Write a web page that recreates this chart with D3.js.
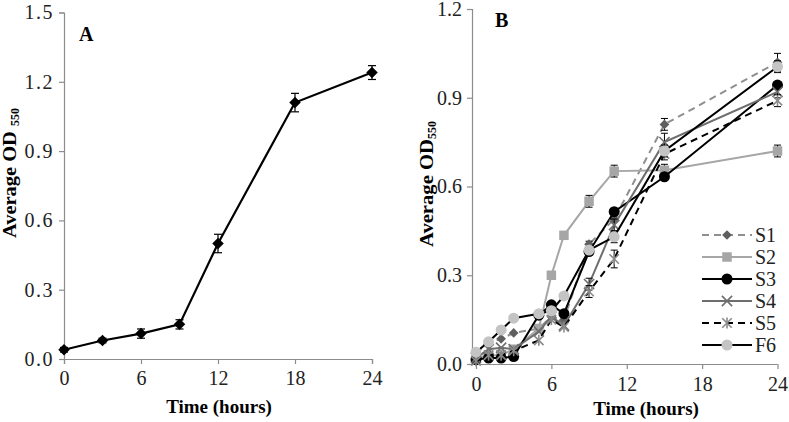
<!DOCTYPE html>
<html><head><meta charset="utf-8">
<script src="https://cdn.jsdelivr.net/npm/d3@7"></script>
<style>
body{margin:0;background:#fff;}
text{font-family:"Liberation Serif","Times New Roman",serif;}
</style></head>
<body>
<svg id="c" width="789" height="422"></svg>
<script>
// Panel A data
const timeA = [0, 3, 6, 9, 12, 18, 24];
const odA = [0.04, 0.08, 0.11, 0.15, 0.50, 1.11, 1.24];
const errA = [0.01, 0.01, 0.02, 0.02, 0.04, 0.04, 0.03];
const ticksAx = [0, 6, 12, 18, 24];
const ticksAy = [0, 0.3, 0.6, 0.9, 1.2, 1.5];

// Panel B data
const timeB = [0, 1, 2, 3, 5, 6, 7, 9, 11, 15, 24];
const seriesNames = ["S1", "S2", "S3", "S4", "S5", "F6"];
const S1 = [0.04, 0.07, 0.085, 0.105, 0.12, 0.16, 0.15, 0.405, 0.49, 0.81, 1.02];
const S2 = [0.02, 0.03, 0.03, 0.05, 0.12, 0.30, 0.435, 0.55, 0.652, 0.655, 0.72];
const S3 = [0.015, 0.02, 0.02, 0.025, 0.165, 0.20, 0.17, 0.38, 0.515, 0.633, 0.943];
const S4 = [0.02, 0.05, 0.055, 0.05, 0.11, 0.16, 0.13, 0.27, 0.47, 0.75, 0.92];
const S5 = [0.01, 0.03, 0.03, 0.045, 0.08, 0.15, 0.125, 0.245, 0.355, 0.71, 0.89];
const F6 = [0.04, 0.075, 0.115, 0.155, 0.17, 0.18, 0.23, 0.385, 0.43, 0.72, 1.005];
const errS1 = [0, 0, 0, 0, 0, 0, 0, 0.01, 0.01, 0.02, 0.03];
const errS2 = [0, 0, 0, 0, 0, 0, 0.01, 0.02, 0.02, 0.02, 0.02];
const errS3 = [0, 0, 0, 0, 0, 0, 0, 0, 0.01, 0.01, 0.01];
const errS4 = [0, 0, 0, 0, 0, 0, 0, 0.02, 0.02, 0.03, 0.02];
const errS5 = [0, 0, 0, 0, 0, 0, 0, 0.02, 0.03, 0.02, 0.02];
const errF6 = [0, 0, 0, 0, 0, 0, 0, 0, 0.02, 0.02, 0.02];
const ticksBx = [0, 6, 12, 18, 24];
const ticksBy = [0, 0.3, 0.6, 0.9, 1.2];

const svg = d3.select("#c");
const axisColor = "#8c8c8c";

function styleAxis(g){
  g.select(".domain").attr("stroke", axisColor).attr("stroke-width", 1.2);
  g.selectAll(".tick line").attr("stroke", axisColor).attr("stroke-width", 1.2);
  g.selectAll(".tick text").attr("fill", "#222").style("font-size", "20px")
    .style("font-family", '"Liberation Serif", serif');
}

// ---------- Panel A ----------
const xA = d3.scaleLinear().domain([0, 24]).range([64, 372]);
const yA = d3.scaleLinear().domain([0, 1.5]).range([359, 12.5]);

svg.append("g").attr("transform", "translate(0,359)")
  .call(d3.axisBottom(xA).tickValues(ticksAx).tickFormat(d3.format("d")).tickSizeOuter(0).tickSize(5).tickPadding(7))
  .call(styleAxis);
svg.append("g").attr("transform", "translate(64,0)")
  .call(d3.axisLeft(yA).tickValues(ticksAy).tickFormat(d3.format(".1f")).tickSizeOuter(0).tickSize(5).tickPadding(5))
  .call(styleAxis)
  .call(g => g.selectAll(".tick text").style("letter-spacing", "1.5px"));

const dataA = timeA.map((t, i) => ({t, v: odA[i], e: errA[i]}));
const lineA = d3.line().x(d => xA(d.t)).y(d => yA(d.v));
svg.append("path").datum(dataA).attr("d", lineA)
  .attr("fill", "none").attr("stroke", "#000").attr("stroke-width", 2.2);
const ebA = svg.append("g");
dataA.forEach(d => {
  const x = xA(d.t), y1 = yA(d.v - d.e), y2 = yA(d.v + d.e);
  ebA.append("line").attr("x1", x).attr("x2", x).attr("y1", y1).attr("y2", y2).attr("stroke", "#000").attr("stroke-width", 1.2);
  ebA.append("line").attr("x1", x - 4).attr("x2", x + 4).attr("y1", y1).attr("y2", y1).attr("stroke", "#000").attr("stroke-width", 1.2);
  ebA.append("line").attr("x1", x - 4).attr("x2", x + 4).attr("y1", y2).attr("y2", y2).attr("stroke", "#000").attr("stroke-width", 1.2);
});
svg.append("g").selectAll("path").data(dataA).join("path")
  .attr("d", d3.symbol(d3.symbolDiamond2, 85)())
  .attr("transform", d => `translate(${xA(d.t)},${yA(d.v)})`)
  .attr("fill", "#000");

svg.append("text").attr("x", 79).attr("y", 41).text("A")
  .style("font-size", "20px").style("font-weight", "bold");
svg.append("text").attr("x", 219).attr("y", 413).attr("text-anchor", "middle")
  .text("Time (hours)").style("font-size", "19px").style("font-weight", "bold");
const tA = svg.append("text").attr("transform", "translate(16,238) rotate(-90)")
  .attr("text-anchor", "start").style("font-size", "19px").style("font-weight", "bold");
tA.append("tspan").text("Average OD ").attr("textLength", 112).attr("lengthAdjust", "spacingAndGlyphs");
tA.append("tspan").text("550").style("font-size", "12px").attr("dy", 3);

// ---------- Panel B ----------
const xB = d3.scaleLinear().domain([0, 24]).range([476, 777.5]);
const yB = d3.scaleLinear().domain([0, 1.2]).range([364, 9]);

svg.append("g").attr("transform", "translate(0,364)")
  .call(d3.axisBottom(xB).tickValues(ticksBx).tickFormat(d3.format("d")).tickSizeOuter(0).tickSize(5).tickPadding(8))
  .call(g => g.select(".domain").attr("d", `M472,0.5H${xB(24)}`))
  .call(styleAxis);
svg.append("g").attr("transform", "translate(472,0)")
  .call(d3.axisLeft(yB).tickValues(ticksBy).tickFormat(d3.format(".1f")).tickSizeOuter(0).tickSize(5).tickPadding(5))
  .call(styleAxis);

const seriesVals = [S1, S2, S3, S4, S5, F6];
const seriesErr = [errS1, errS2, errS3, errS4, errS5, errF6];
const styles = {
  S1: {line: "#8f8f8f", dash: "7,5", marker: "diamond", fill: "#5f5f5f", width: 2},
  S2: {line: "#a6a6a6", dash: null, marker: "square", fill: "#a6a6a6", width: 2},
  S3: {line: "#000", dash: null, marker: "circle", fill: "#000", width: 2},
  S4: {line: "#6e6e6e", dash: null, marker: "x", fill: "#6e6e6e", width: 2},
  S5: {line: "#000", dash: "7,5", marker: "star", fill: "#8a8a8a", width: 2},
  F6: {line: "#000", dash: null, marker: "circle", fill: "#c4c4c4", width: 2}
};

function drawMarker(g, type, x, y, color){
  if (type === "diamond") {
    g.append("path").attr("d", d3.symbol(d3.symbolDiamond2, 60)()).attr("transform", `translate(${x},${y})`).attr("fill", color);
  } else if (type === "square") {
    g.append("path").attr("d", d3.symbol(d3.symbolSquare, 90)()).attr("transform", `translate(${x},${y})`).attr("fill", color);
  } else if (type === "circle") {
    g.append("circle").attr("cx", x).attr("cy", y).attr("r", 5.5).attr("fill", color);
  } else if (type === "x") {
    g.append("path").attr("d", d3.symbol(d3.symbolTimes, 70)()).attr("transform", `translate(${x},${y})`)
      .attr("fill", "none").attr("stroke", color).attr("stroke-width", 1.6);
  } else if (type === "star") {
    g.append("path").attr("d", d3.symbol(d3.symbolTimes, 60)()).attr("transform", `translate(${x},${y})`)
      .attr("fill", "none").attr("stroke", color).attr("stroke-width", 1.6);
    g.append("line").attr("x1", x).attr("x2", x).attr("y1", y - 5.5).attr("y2", y + 5.5)
      .attr("stroke", color).attr("stroke-width", 1.6);
  }
}

const gB = svg.append("g");
seriesNames.forEach((name, si) => {
  const st = styles[name];
  const data = timeB.map((t, i) => ({t, v: seriesVals[si][i], e: seriesErr[si][i]}));
  const g = gB.append("g");
  g.append("path").datum(data)
    .attr("d", d3.line().x(d => xB(d.t)).y(d => yB(d.v)))
    .attr("fill", "none").attr("stroke", st.line).attr("stroke-width", st.width)
    .attr("stroke-dasharray", st.dash);
  data.forEach(d => {
    if (d.e > 0) {
      const x = xB(d.t), y1 = yB(d.v - d.e), y2 = yB(d.v + d.e);
      g.append("line").attr("x1", x).attr("x2", x).attr("y1", y1).attr("y2", y2).attr("stroke", "#000").attr("stroke-width", 1);
      g.append("line").attr("x1", x - 3.5).attr("x2", x + 3.5).attr("y1", y1).attr("y2", y1).attr("stroke", "#000").attr("stroke-width", 1);
      g.append("line").attr("x1", x - 3.5).attr("x2", x + 3.5).attr("y1", y2).attr("y2", y2).attr("stroke", "#000").attr("stroke-width", 1);
    }
    drawMarker(g, st.marker, xB(d.t), yB(d.v), st.fill);
  });
});

svg.append("text").attr("x", 495).attr("y", 27).text("B")
  .style("font-size", "20px").style("font-weight", "bold");
svg.append("text").attr("x", 646).attr("y", 415).attr("text-anchor", "middle")
  .text("Time (hours)").style("font-size", "19px").style("font-weight", "bold");
const tB = svg.append("text").attr("transform", "translate(433,247) rotate(-90)")
  .attr("text-anchor", "start").style("font-size", "19px").style("font-weight", "bold");
tB.append("tspan").text("Average OD").attr("textLength", 108).attr("lengthAdjust", "spacingAndGlyphs");
tB.append("tspan").text("550").style("font-size", "12px").attr("dy", 3);

// Legend
const leg = svg.append("g");
seriesNames.forEach((name, i) => {
  const st = styles[name];
  const y = 235 + i * 22;
  leg.append("line").attr("x1", 702).attr("x2", 752).attr("y1", y).attr("y2", y)
    .attr("stroke", st.line).attr("stroke-width", st.width).attr("stroke-dasharray", st.dash);
  drawMarker(leg, st.marker, 727, y, st.fill);
  leg.append("text").attr("x", 755).attr("y", y + 7).text(name).style("font-size", "20px").attr("fill", "#222");
});
</script>
</body></html>
